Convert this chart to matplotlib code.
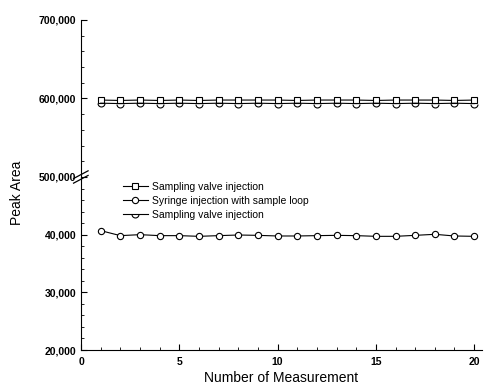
import numpy as np
import matplotlib.pyplot as plt
from matplotlib.path import Path
from matplotlib.ticker import MultipleLocator, FuncFormatter

plt.rcParams['font.family'] = ['Liberation Sans', 'DejaVu Sans']

measurement = list(range(1, 21))
# sampling valve injection (squares), upper panel
valve_sq = [598000, 597500, 598000, 597500, 598000, 597500, 598000, 598000, 598000, 598000,
            597500, 598000, 598000, 598000, 597500, 598000, 598000, 598000, 597500, 598000]
# sampling valve injection (second run), upper panel
valve_u = [594000, 593500, 594000, 593500, 594000, 593500, 594000, 593500, 594000, 593500,
           594000, 593500, 594000, 593500, 594000, 593500, 594000, 593500, 594000, 593500]
# syringe injection with sample loop, lower panel
syringe = [40700, 39830, 40000, 39830, 39830, 39710, 39830, 39940, 39880, 39770,
           39770, 39830, 39880, 39830, 39710, 39710, 39880, 40060, 39770, 39710]

labels = ['Sampling valve injection', 'Syringe injection with sample loop',
          'Sampling valve injection']

fig = plt.figure(figsize=(4.84, 3.85), dpi=100)
ax_hi = fig.add_axes([0.1674, 0.5403, 0.8285, 0.4078])
ax_lo = fig.add_axes([0.1674, 0.0909, 0.8285, 0.4494])

kw = dict(color='black', lw=0.8, markersize=4.5, markerfacecolor='white', markeredgewidth=0.8)
cup = Path.arc(180, 360)
h1, = ax_hi.plot(measurement, valve_sq, marker='s', **kw)
h3, = ax_hi.plot(measurement, valve_u, marker=cup, color='black', lw=0.8, markersize=5,
                 fillstyle='none', markeredgewidth=0.8)
h2, = ax_lo.plot(measurement, syringe, marker='o', **kw)

fmt = FuncFormatter(lambda v, p: f'{int(v):,}')

for ax in (ax_hi, ax_lo):
    ax.set_xlim(0, 20.4)
    ax.spines['top'].set_visible(False)
    ax.spines['right'].set_visible(False)
    ax.tick_params(direction='in', which='both', labelsize=7.5)
    ax.tick_params(which='major', length=4)
    ax.tick_params(which='minor', length=2)
    ax.yaxis.set_major_formatter(fmt)
    ax.patch.set_alpha(0)

ax_hi.set_ylim(500000, 700000)
ax_hi.yaxis.set_major_locator(MultipleLocator(100000))
ax_hi.yaxis.set_minor_locator(MultipleLocator(20000))
ax_hi.spines['bottom'].set_visible(False)
ax_hi.tick_params(axis='x', which='both', bottom=False, labelbottom=False)

ax_lo.set_ylim(20000, 50000)
ax_lo.set_yticks([20000, 30000, 40000])
ax_lo.yaxis.set_minor_locator(MultipleLocator(2000))
ax_lo.xaxis.set_major_locator(MultipleLocator(5))
ax_lo.xaxis.set_minor_locator(MultipleLocator(1))
ax_lo.tick_params(axis='x', pad=5)

for lab in ax_hi.get_yticklabels() + ax_lo.get_yticklabels() + ax_lo.get_xticklabels():
    lab.set_fontweight('bold')

# break marks on the y axis
for dy in (-0.006, 0.006):
    fig.add_artist(plt.Line2D([0.152, 0.182], [0.5403 + dy - 0.01, 0.5403 + dy + 0.01],
                              color='black', lw=0.9))

ax_lo.set_xlabel('Number of Measurement', fontsize=10, labelpad=3)
fig.text(0.036, 0.5, 'Peak Area', rotation=90, va='center', ha='center', fontsize=10)

fig.legend([h1, h2, h3], labels, loc='upper left', bbox_to_anchor=(0.245, 0.538),
           frameon=False, fontsize=7.5, handlelength=2.4, handletextpad=0.4,
           labelspacing=0.38, borderaxespad=0)

fig.savefig('out.png', dpi=100)
